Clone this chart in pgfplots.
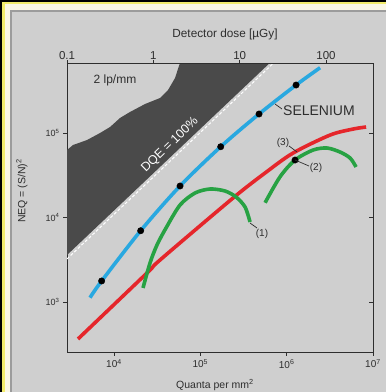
\documentclass[border=0pt]{standalone}
\usepackage{pgfplots}
\pgfplotsset{compat=1.18}
\usepackage{fontspec}
\setmainfont{Liberation Sans}
\definecolor{panel}{HTML}{CFCFCF}
\definecolor{framegray}{HTML}{9C9C9C}
\definecolor{cream}{HTML}{FBF8E4}
\definecolor{yellowb}{HTML}{F2EC6A}
\definecolor{darkreg}{HTML}{4A4A4A}
\definecolor{blueS}{HTML}{29A8E0}
\definecolor{redS}{HTML}{E5262B}
\definecolor{greenS}{HTML}{27A243}
\definecolor{axisc}{HTML}{2E2E2E}
\begin{document}
\begin{tikzpicture}
\useasboundingbox (0pt,0pt) rectangle (386pt,392pt);
\fill[black] (0pt,0pt) rectangle (386pt,392pt);
\fill[yellowb] (2pt,0pt) rectangle (386pt,390pt);
\fill[cream] (4.5pt,0pt) rectangle (386pt,387.5pt);
\fill[framegray] (10pt,0pt) rectangle (386pt,382pt);
\fill[panel] (12pt,0pt) rectangle (386pt,380pt);
\begin{axis}[
  at={(67pt,40pt)}, anchor=south west, scale only axis,
  width=306pt, height=288.5pt,
  xmode=log, ymode=log,
  xmin=2855, xmax=1e7, ymin=256, ymax=665000,
  axis line style={draw=axisc, line width=0.9pt},
  tick style={draw=axisc, line width=0.9pt},
  xtick={1e4,1e5,1e6,1e7},
  xticklabels={10\textsuperscript{4},10\textsuperscript{5},10\textsuperscript{6},10\textsuperscript{7}},
  ytick={1e3,1e4,1e5},
  yticklabels={10\textsuperscript{3},10\textsuperscript{4},10\textsuperscript{5}},
  xtick pos=left, ytick pos=left, tick align=outside,
  major tick length=4pt,
  xminorticks=false, yminorticks=false,
  xticklabel style={font=\fontsize{10}{12}\selectfont, text=axisc},
  yticklabel style={font=\fontsize{9}{11}\selectfont, text=axisc},
]
% dark region (above the ideal DQE = 100% line)
\addplot[fill=darkreg, draw=none] coordinates {
 (2855,62950) (3350,72110) (4864,82600) (6887,100000) (8995,117800)
 (11750,150700) (15310,177400) (22860,220300) (34120,259400)
 (42270,322800) (50930,447700) (58210,680000) (642700,680000) (2855,3597)
} -- cycle;
% DQE = 100% dashed line
\addplot[white, line width=1pt, dash pattern=on 3pt off 2pt] coordinates {(2855,3236) (707900,676100)};
% red curve
\addplot[redS, line width=3.6pt, smooth] coordinates {
 (3828,365) (24100,2203) (34120,3141) (239300,17020) (562300,33650)
 (1186000,57940) (3184000,94620) (5875000,111400) (8318000,117800)
};
% green curve (1)
\addplot[greenS, line width=3.6pt, smooth] coordinates {
 (21680,1466) (26120,2895) (31480,4732) (40060,7520) (58210,14060)
 (86890,19500) (129500,21740) (193200,20590) (259200,17500)
 (329600,13300) (376700,8850)
};
% green curve (2)
\addplot[greenS, line width=3.6pt, smooth] coordinates {
 (562300,14960) (839500,30410) (1250000,47890) (2022000,62880)
 (2939000,66430) (4154000,59540) (5430000,50580) (6368000,39630)
};
% selenium (blue)
\addplot[blueS, line width=3.6pt, smooth] coordinates {
 (5272,1125) (7194,1774) (20370,6982) (58210,23600) (172200,68870)
 (478600,167900) (1285000,369800) (2438000,592900)
};
\addplot[only marks, mark=*, mark size=3.2pt, black] coordinates {
 (7194,1774) (20370,6982) (58210,23600) (172200,68870)
 (478600,167900) (1285000,369800)
};
\addplot[only marks, mark=*, mark size=3.2pt, black] coordinates {(1250000,47890)};
\end{axis}
% top axis: detector dose
\begin{axis}[
  at={(67pt,40pt)}, anchor=south west, scale only axis,
  width=306pt, height=288.5pt,
  xmode=log, xmin=0.1, xmax=350.4, ymin=0, ymax=1,
  axis x line*=top, hide y axis,
  axis line style={draw=axisc, line width=0.9pt},
  tick style={draw=axisc, line width=0.9pt},
  xtick={0.1,1,10,100}, xticklabels={0.1,1,10,100},
  tick align=outside, major tick length=3pt,
  xminorticks=false,
  xticklabel style={font=\fontsize{11.5}{13}\selectfont, text=axisc, yshift=-3pt},
]
\end{axis}
% right axis ticks
\begin{axis}[
  at={(67pt,40pt)}, anchor=south west, scale only axis,
  width=306pt, height=288.5pt,
  ymode=log, ymin=256, ymax=665000, xmin=0, xmax=1,
  axis y line*=right, hide x axis,
  axis line style={draw=axisc, line width=0.9pt},
  tick style={draw=axisc, line width=0.9pt},
  ytick={1e3,1e4,1e5}, yticklabels={}, yminorticks=false,
  tick align=inside, major tick length=4pt,
]
\end{axis}
% texts
\node[text=axisc, font=\fontsize{11.8}{14}\selectfont] at (225pt,358pt) {Detector dose [µGy]};
\node[text=axisc, font=\fontsize{10.5}{12}\selectfont] at (215pt,7pt) {Quanta per mm\textsuperscript{2}};
\node[text=axisc, font=\fontsize{10.5}{12}\selectfont, rotate=90] at (22pt,201pt) {NEQ = (S/N)\textsuperscript{2}};
\node[text=axisc, font=\fontsize{12}{14}\selectfont] at (115pt,312pt) {2 lp/mm};
\node[white, font=\fontsize{12.5}{14}\selectfont, rotate=44] at (170pt,247pt) {DQE = 100\%};
\node[text=axisc, font=\fontsize{14}{16}\selectfont, anchor=west, inner sep=0pt] at (283pt,281pt) {SELENIUM};
\draw[axisc, line width=0.7pt] (275pt,288pt) -- (282pt,283pt);
\node[text=axisc, font=\fontsize{10}{12}\selectfont] at (262pt,158pt) {(1)};
\draw[axisc, line width=0.7pt] (250pt,169pt) -- (257pt,164pt);
\node[text=axisc, font=\fontsize{10}{12}\selectfont] at (316pt,224pt) {(2)};
\draw[axisc, line width=0.7pt] (295pt,232pt) -- (309pt,226pt);
\node[text=axisc, font=\fontsize{10}{12}\selectfont] at (283pt,249pt) {(3)};
\draw[axisc, line width=0.7pt] (289pt,246pt) -- (297pt,240pt);
\end{tikzpicture}
\end{document}
